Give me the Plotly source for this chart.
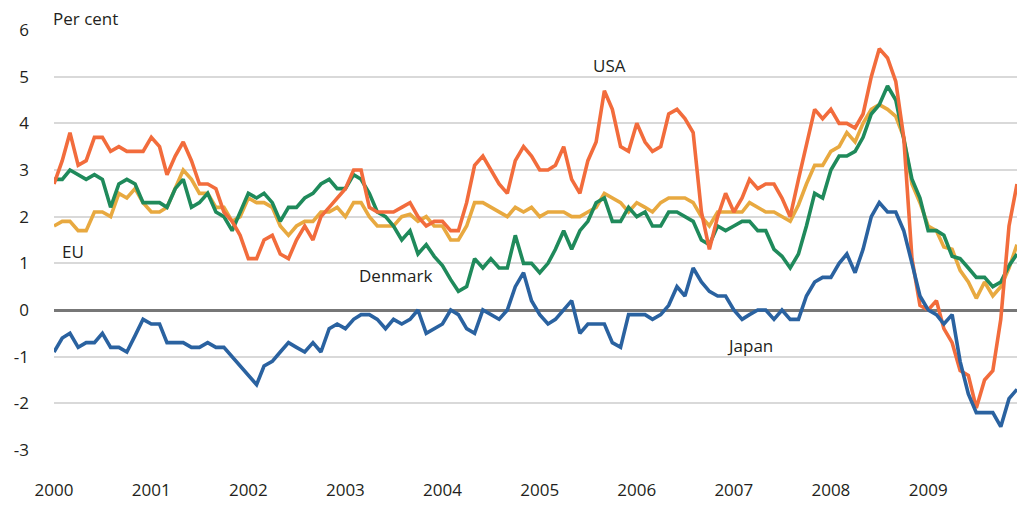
import pandas as pd
import plotly.graph_objects as go

months = pd.date_range("2000-01-01", periods=120, freq="MS")

usa = [2.7, 3.2, 3.8, 3.1, 3.2, 3.7, 3.7, 3.4, 3.5, 3.4, 3.4, 3.4,
       3.7, 3.5, 2.9, 3.3, 3.6, 3.2, 2.7, 2.7, 2.6, 2.1, 1.9, 1.6,
       1.1, 1.1, 1.5, 1.6, 1.2, 1.1, 1.5, 1.8, 1.5, 2.0, 2.2, 2.4,
       2.6, 3.0, 3.0, 2.2, 2.1, 2.1, 2.1, 2.2, 2.3, 2.0, 1.8, 1.9,
       1.9, 1.7, 1.7, 2.3, 3.1, 3.3, 3.0, 2.7, 2.5, 3.2, 3.5, 3.3,
       3.0, 3.0, 3.1, 3.5, 2.8, 2.5, 3.2, 3.6, 4.7, 4.3, 3.5, 3.4,
       4.0, 3.6, 3.4, 3.5, 4.2, 4.3, 4.1, 3.8, 2.1, 1.3, 2.0, 2.5,
       2.1, 2.4, 2.8, 2.6, 2.7, 2.7, 2.4, 2.0, 2.8, 3.5, 4.3, 4.1,
       4.3, 4.0, 4.0, 3.9, 4.2, 5.0, 5.6, 5.4, 4.9, 3.7, 1.1, 0.1,
       0.0, 0.2, -0.4, -0.7, -1.3, -1.4, -2.1, -1.5, -1.3, -0.2, 1.8, 2.7]

eu = [1.8, 1.9, 1.9, 1.7, 1.7, 2.1, 2.1, 2.0, 2.5, 2.4, 2.6, 2.3,
      2.1, 2.1, 2.2, 2.6, 3.0, 2.8, 2.5, 2.5, 2.2, 2.2, 1.9, 2.0,
      2.4, 2.3, 2.3, 2.2, 1.8, 1.6, 1.8, 1.9, 1.9, 2.1, 2.1, 2.2,
      2.0, 2.3, 2.3, 2.0, 1.8, 1.8, 1.8, 2.0, 2.05, 1.9, 2.0, 1.8,
      1.8, 1.5, 1.5, 1.8, 2.3, 2.3, 2.2, 2.1, 2.0, 2.2, 2.1, 2.2,
      2.0, 2.1, 2.1, 2.1, 2.0, 2.0, 2.1, 2.2, 2.5, 2.4, 2.3, 2.1,
      2.3, 2.2, 2.1, 2.3, 2.4, 2.4, 2.4, 2.3, 2.0, 1.8, 2.1, 2.1,
      2.1, 2.1, 2.3, 2.2, 2.1, 2.1, 2.0, 1.9, 2.25, 2.7, 3.1, 3.1,
      3.4, 3.5, 3.8, 3.6, 4.0, 4.3, 4.4, 4.3, 4.15, 3.7, 2.7, 2.3,
      1.8, 1.7, 1.35, 1.3, 0.85, 0.6, 0.25, 0.6, 0.3, 0.5, 0.9, 1.4]

denmark = [2.8, 2.8, 3.0, 2.9, 2.8, 2.9, 2.8, 2.2, 2.7, 2.8, 2.7, 2.3,
           2.3, 2.3, 2.2, 2.6, 2.8, 2.2, 2.3, 2.5, 2.1, 2.0, 1.7, 2.1,
           2.5, 2.4, 2.5, 2.3, 1.9, 2.2, 2.2, 2.4, 2.5, 2.7, 2.8, 2.6,
           2.6, 2.9, 2.8, 2.5, 2.1, 2.0, 1.8, 1.5, 1.7, 1.2, 1.4, 1.15,
           0.95, 0.65, 0.4, 0.5, 1.1, 0.9, 1.1, 0.9, 0.9, 1.6, 1.0, 1.0,
           0.8, 1.0, 1.3, 1.7, 1.3, 1.7, 1.9, 2.3, 2.4, 1.9, 1.9, 2.2,
           2.0, 2.1, 1.8, 1.8, 2.1, 2.1, 2.0, 1.9, 1.5, 1.4, 1.8, 1.7,
           1.8, 1.9, 1.9, 1.7, 1.7, 1.3, 1.15, 0.9, 1.2, 1.8, 2.5, 2.4,
           3.0, 3.3, 3.3, 3.4, 3.7, 4.2, 4.4, 4.8, 4.5, 3.7, 2.8, 2.4,
           1.7, 1.7, 1.6, 1.15, 1.1, 0.9, 0.7, 0.7, 0.5, 0.6, 0.95, 1.2]

japan = [-0.9, -0.6, -0.5, -0.8, -0.7, -0.7, -0.5, -0.8, -0.8, -0.9, -0.55, -0.2,
         -0.3, -0.3, -0.7, -0.7, -0.7, -0.8, -0.8, -0.7, -0.8, -0.8, -1.0, -1.2,
         -1.4, -1.6, -1.2, -1.1, -0.9, -0.7, -0.8, -0.9, -0.7, -0.9, -0.4, -0.3,
         -0.4, -0.2, -0.1, -0.1, -0.2, -0.4, -0.2, -0.3, -0.2, 0.0, -0.5, -0.4,
         -0.3, 0.0, -0.1, -0.4, -0.5, 0.0, -0.1, -0.2, 0.0, 0.5, 0.8, 0.2,
         -0.1, -0.3, -0.2, 0.0, 0.2, -0.5, -0.3, -0.3, -0.3, -0.7, -0.8, -0.1,
         -0.1, -0.1, -0.2, -0.1, 0.1, 0.5, 0.3, 0.9, 0.6, 0.4, 0.3, 0.3,
         0.0, -0.2, -0.1, 0.0, 0.0, -0.2, 0.0, -0.2, -0.2, 0.3, 0.6, 0.7,
         0.7, 1.0, 1.2, 0.8, 1.3, 2.0, 2.3, 2.1, 2.1, 1.7, 1.0, 0.3,
         0.0, -0.1, -0.3, -0.1, -1.1, -1.8, -2.2, -2.2, -2.2, -2.5, -1.9, -1.7]

year_ticks = ["2000", "2001", "2002", "2003", "2004", "2005", "2006", "2007", "2008", "2009"]
y_ticks = [-3, -2, -1, 0, 1, 2, 3, 4, 5, 6]
y_ticktext = ["-3", "-2", "-1", "0", "1", "2", "3", "4", "5", "6"]

series = [
    ("EU", eu, "#E8A940"),
    ("Denmark", denmark, "#1F8A5B"),
    ("USA", usa, "#F26C3C"),
    ("Japan", japan, "#2A62A0"),
]

FONT = "Open Sans"
TXT = "#231F20"

fig = go.Figure()
for name, vals, col in series:
    fig.add_trace(go.Scatter(x=months, y=vals, mode="lines", name=name,
                             line=dict(color=col, width=3.6), hoverinfo="skip"))

labels = [
    ("USA", "2005-09-21", 5.23),
    ("EU", "2000-03-11", 1.25),
    ("Denmark", "2003-07-07", 0.73),
    ("Japan", "2007-03-01", -0.77),
]
for t, xx, yy in labels:
    fig.add_annotation(x=xx, y=yy, text=t, showarrow=False,
                       font=dict(family=FONT, size=17, color=TXT),
                       xanchor="center", yanchor="middle")

fig.add_annotation(xref="paper", x=0, yref="paper", y=1, text="Per cent",
                   showarrow=False, xanchor="left", yanchor="middle",
                   xshift=-3, yshift=12,
                   font=dict(family=FONT, size=17, color=TXT))

fig.update_layout(
    width=1021, height=517,
    margin=dict(l=54, r=4, t=30, b=67, autoexpand=False),
    paper_bgcolor="white", plot_bgcolor="white",
    showlegend=False,
    hovermode=False,
    font=dict(family=FONT, size=17, color=TXT),
)
fig.update_xaxes(
    type="date",
    range=[months[0], months[-1]],
    tickvals=[f"{y}-01-01" for y in year_ticks],
    ticktext=year_ticks,
    showgrid=False, zeroline=False, showline=False, ticks="",
    automargin=False,
    ticklabelstandoff=28,
    tickfont=dict(family=FONT, size=17, color=TXT),
)
fig.update_yaxes(
    range=[-3, 6],
    tickvals=y_ticks, ticktext=y_ticktext,
    showgrid=True, gridcolor="#D9D9D9", gridwidth=1.5,
    zeroline=True, zerolinecolor="#777777", zerolinewidth=3,
    showline=False, ticks="",
    automargin=False,
    ticklabelstandoff=24,
    tickfont=dict(family=FONT, size=17, color=TXT),
)

fig.write_html(
    "out.html",
    config={"displayModeBar": False},
    post_script="document.body.style.margin='0';document.body.style.overflow='hidden';",
)
